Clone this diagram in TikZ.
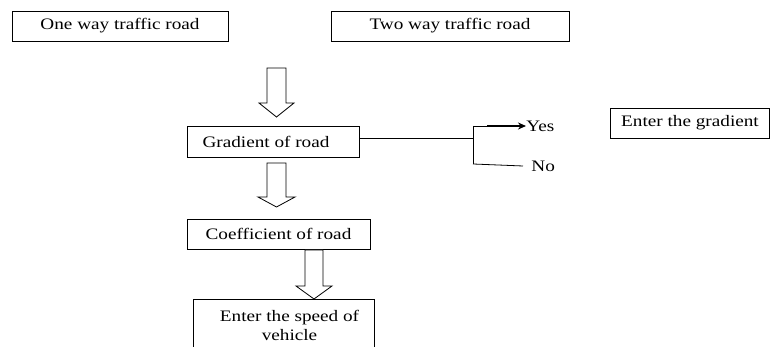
\documentclass[tikz,border=0pt]{standalone}
\usepackage{fontspec}
\setmainfont{Liberation Serif}[FakeStretch=1.2]
\usetikzlibrary{arrows.meta}
\begin{document}
\begin{tikzpicture}[x=1pt,y=-1pt, line width=0.8pt,
  box/.style={draw, rectangle, inner sep=0pt, font=\fontsize{16}{19}\selectfont},
  txt/.style={inner sep=0pt, font=\fontsize{16}{19}\selectfont},
  blockarrow/.style={draw, line width=0.8pt, fill=white, line join=miter}]
\useasboundingbox (0,0) rectangle (772,347);
\clip (0,0) rectangle (772,347);

\node[box, minimum width=216pt, minimum height=30pt] (oneway) at (120,26) {One way traffic road};
\node[box, minimum width=238pt, minimum height=30pt] (twoway) at (450,26) {Two way traffic road};
\node[box, minimum width=172pt, minimum height=31pt] (grad) at (273,141.5) {\hspace*{-14pt}Gradient of road};
\node[box, minimum width=159pt, minimum height=30pt] (entgrad) at (690,123) {Enter the gradient};
\node[box, minimum width=183pt, minimum height=30pt] (coef) at (278.5,234) {Coefficient of road};
\node[box, anchor=north, minimum width=181pt, minimum height=52pt, align=center] (speed) at (283.5,299) {\hspace*{12pt}Enter the speed of\\\hspace*{12pt}vehicle};

% block arrows
\draw[blockarrow] (267,68) -- (286,68) -- (286,103) -- (294,103) -- (276.5,117) -- (259,103) -- (267,103) -- cycle;
\draw[blockarrow] (267,163) -- (286,163) -- (286,197) -- (295,197) -- (276.5,207) -- (258,197) -- (267,197) -- cycle;
\draw[blockarrow] (305,250) -- (323,250) -- (323,286) -- (332,286) -- (314,299) -- (296,286) -- (305,286) -- cycle;

% fork
\coordinate (fork) at (473,138);
\coordinate (forkY) at (473,126);
\coordinate (forkN) at (473,164);
\coordinate (yesmid) at (487,126);
\node[txt, anchor=west] (yes) at (526,126) {Yes};
\node[txt, anchor=west] (no) at (531,166) {No};
\draw (grad.east |- fork) -- (fork);
\draw (forkY) -- (forkN);
\draw (forkY) -- (yesmid);
\draw[line width=1.5pt, -{Stealth[length=8pt,width=7pt]}] (yesmid) -- (yes.west);
\draw (forkN) -- ([xshift=-8pt]no.west);
\end{tikzpicture}
\end{document}
